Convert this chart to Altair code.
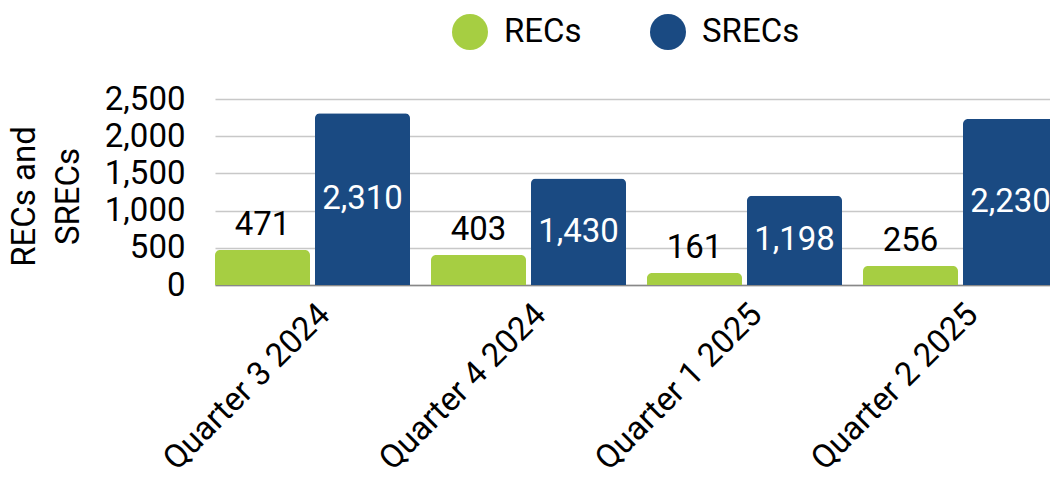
import altair as alt
import pandas as pd

quarters = ["Quarter 3 2024", "Quarter 4 2024", "Quarter 1 2025", "Quarter 2 2025"]
series = ["RECs", "SRECs"]
recs = [471, 403, 161, 256]
srecs = [2310, 1430, 1198, 2230]
colors = ["#A6CE42", "#1A4A82"]
y_ticks = [0, 500, 1000, 1500, 2000, 2500]
y_title = ["RECs and", "SRECs"]

rows = []
for q, r, s in zip(quarters, recs, srecs):
    rows.append({"quarter": q, "series": "RECs", "value": r})
    rows.append({"quarter": q, "series": "SRECs", "value": s})
df = pd.DataFrame(rows)

FONT = "Roboto"
FS = 33

x = alt.X(
    "quarter:N",
    sort=quarters,
    scale=alt.Scale(range=[0, 843], paddingInner=0.0972, paddingOuter=0),
    axis=alt.Axis(
        title=None, labelAngle=-45, labelAlign="right", labelBaseline="middle",
        labelFontSize=FS, labelFont=FONT, labelColor="black", ticks=False,
        domainColor="#888888", domainWidth=1.5, labelPadding=24, labelOffset=12,
        grid=False, labelOverlap=False, labelLimit=400,
    ),
)
xo = alt.XOffset("series:N", sort=series, scale=alt.Scale(paddingInner=0.05))

y_axis = alt.Axis(
    values=y_ticks, format=",.0f", ticks=False, domain=False, labelPadding=30,
    labelFontSize=FS, labelFont=FONT, labelColor="black",
    gridColor="#c8c8c8", gridWidth=1.5,
    title=y_title, titleFont=FONT, titleFontSize=FS, titleFontWeight="normal",
    titleColor="black", titleAngle=-90, titleLineHeight=44,
    titleX=-191, titleY=97, titleAlign="center", titleBaseline="middle",
)
y_scale = alt.Scale(domain=[0, 2500], nice=False)
y = alt.Y("value:Q", scale=y_scale, axis=y_axis)

color = alt.Color(
    "series:N",
    scale=alt.Scale(domain=series, range=colors),
    legend=alt.Legend(
        title=None, orient="none", legendX=237, legendY=-85, direction="horizontal",
        symbolType="circle", symbolSize=1296, symbolStrokeWidth=0,
        labelFontSize=FS, labelFont=FONT, labelColor="black", labelOffset=16,
        columnPadding=68,
    ),
)

bars = alt.Chart(df).mark_bar(cornerRadiusEnd=5).encode(x=x, xOffset=xo, y=y, color=color)

rec_labels = alt.Chart(df).transform_filter(alt.datum.series == "RECs").mark_text(
    font=FONT, fontSize=FS, color="black", baseline="alphabetic", dy=-15
).encode(x=x, xOffset=xo, y=y, text=alt.Text("value:Q", format=","))

srec_labels = alt.Chart(df).transform_filter(alt.datum.series == "SRECs").transform_calculate(
    half="datum.value / 2"
).mark_text(
    font=FONT, fontSize=FS, color="white", baseline="middle"
).encode(x=x, xOffset=xo, y=alt.Y("half:Q", scale=y_scale, axis=y_axis),
         text=alt.Text("value:Q", format=","))

chart = alt.layer(bars, rec_labels, srec_labels).properties(
    width=835, height=186,
    autosize=alt.AutoSizeParams(type="none"),
    padding={"left": 215, "top": 99, "right": 0, "bottom": 196},
).configure_view(stroke=None)

chart.save("out.html", embed_options={"renderer": "svg", "actions": False})
